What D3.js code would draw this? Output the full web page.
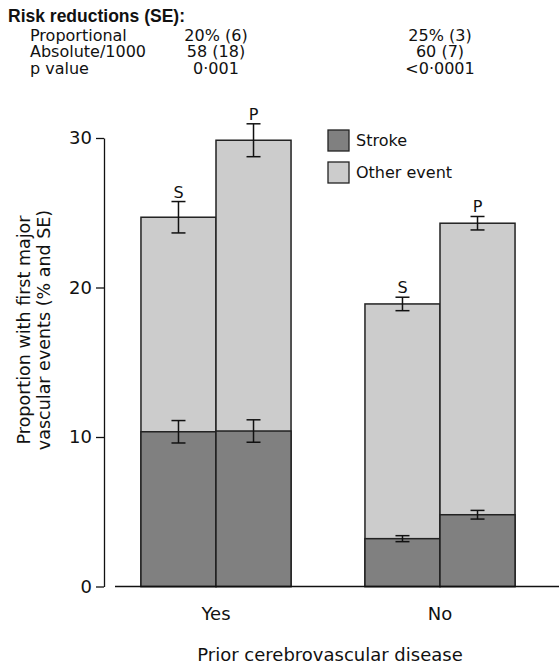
<!DOCTYPE html>
<html>
<head>
<meta charset="utf-8">
<script src="https://cdn.jsdelivr.net/npm/d3@7"></script>
<style>
  body { margin: 0; background: #fff; }
  text { font-family: "DejaVu Sans", sans-serif; fill: #111; }
</style>
</head>
<body>
<svg width="559" height="666"></svg>

<script>
  // data
  const groups = ["Yes", "No"];
  const arms = ["S", "P"];
  const stroke = [[10.35, 10.4], [3.2, 4.8]];
  const strokeSE = [[0.75, 0.75], [0.2, 0.29]];
  const total = [[24.7, 29.85], [18.9, 24.3]];
  const totalSE = [[1.05, 1.1], [0.45, 0.45]];
  const yTicks = [0, 10, 20, 30];
  const rowLabels = ["Proportional", "Absolute/1000", "p value"];
  const rowValues = [
    ["20% (6)", "25% (3)"],
    ["58 (18)", "60 (7)"],
    ["0\u00b7001", "<0\u00b70001"]
  ];
  const legendItems = ["Stroke", "Other event"];
  const colors = ["#808080", "#cccccc"];

  const svg = d3.select("svg");

  const x = d3.scaleBand().domain(groups).range([104, 552])
    .paddingInner(0.33).paddingOuter(0.165);
  const xArm = d3.scaleBand().domain(arms).range([0, x.bandwidth()]);
  const y = d3.scaleLinear().domain([0, 30]).range([586.5, 138]);

  // header table
  svg.append("text")
    .attr("x", 8).attr("y", 22)
    .style("font-family", "'Liberation Sans', Arial, sans-serif")
    .style("font-weight", "bold").style("font-size", "17.5px")
    .text("Risk reductions (SE):");

  rowLabels.forEach((lab, i) => {
    const yy = 40.5 + i * 16.6;
    svg.append("text").attr("x", 30).attr("y", yy)
      .style("font-size", "16px").text(lab);
    groups.forEach((g, j) => {
      svg.append("text").attr("x", x(g) + x.bandwidth() / 2).attr("y", yy)
        .attr("text-anchor", "middle").style("font-size", "16px")
        .text(rowValues[i][j]);
    });
  });

  // bars
  const flat = [];
  groups.forEach((g, i) => arms.forEach((a, j) => flat.push({
    g, a, stroke: stroke[i][j], sse: strokeSE[i][j],
    total: total[i][j], tse: totalSE[i][j]
  })));

  const bar = svg.append("g").selectAll("g").data(flat).join("g")
    .attr("transform", d => `translate(${x(d.g) + xArm(d.a)},0)`);

  bar.append("rect")
    .attr("y", d => y(d.total))
    .attr("width", xArm.bandwidth())
    .attr("height", d => y(0) - y(d.total))
    .attr("fill", colors[1]).attr("stroke", "#222").attr("stroke-width", 1.5);

  bar.append("rect")
    .attr("y", d => y(d.stroke))
    .attr("width", xArm.bandwidth())
    .attr("height", d => y(0) - y(d.stroke))
    .attr("fill", colors[0]).attr("stroke", "#222").attr("stroke-width", 1.5);

  // error bars
  const cx = xArm.bandwidth() / 2;
  const errBar = (sel, mid, se) => {
    const p = sel.append("g").attr("stroke", "#111").attr("stroke-width", 1.5);
    p.append("line").attr("x1", cx).attr("x2", cx)
      .attr("y1", d => y(mid(d) - se(d))).attr("y2", d => y(mid(d) + se(d)));
    p.append("line").attr("x1", cx - 7).attr("x2", cx + 7)
      .attr("y1", d => y(mid(d) - se(d))).attr("y2", d => y(mid(d) - se(d)));
    p.append("line").attr("x1", cx - 7).attr("x2", cx + 7)
      .attr("y1", d => y(mid(d) + se(d))).attr("y2", d => y(mid(d) + se(d)));
  };
  errBar(bar, d => d.total, d => d.tse);
  errBar(bar, d => d.stroke, d => d.sse);

  bar.append("text")
    .attr("x", cx).attr("y", d => y(d.total + d.tse) - 4)
    .attr("text-anchor", "middle").style("font-size", "16px")
    .text(d => d.a);

  // axes
  const yAxis = svg.append("g").attr("transform", "translate(104,0)")
    .call(d3.axisLeft(y).tickValues(yTicks).tickSize(8).tickSizeOuter(0).tickPadding(4));
  yAxis.selectAll("path, line").attr("stroke", "#111").attr("stroke-width", 1.3);
  yAxis.selectAll("text").style("font-size", "18px")
    .style("font-family", "'DejaVu Sans', sans-serif").attr("fill", "#111");

  svg.append("line").attr("x1", 115).attr("x2", 559)
    .attr("y1", y(0)).attr("y2", y(0))
    .attr("stroke", "#111").attr("stroke-width", 1.3);

  groups.forEach(g => {
    svg.append("text").attr("x", x(g) + x.bandwidth() / 2).attr("y", 620)
      .attr("text-anchor", "middle").style("font-size", "18px").text(g);
  });

  svg.append("text").attr("x", (x.range()[0] + x.range()[1]) / 2 + 2).attr("y", 661)
    .attr("text-anchor", "middle").style("font-size", "18px")
    .text("Prior cerebrovascular disease");

  const yl = svg.append("text").attr("transform", "translate(0,330) rotate(-90)")
    .attr("text-anchor", "middle").style("font-size", "17.5px");
  yl.append("tspan").attr("x", 0).attr("y", 30).text("Proportion with first major");
  yl.append("tspan").attr("x", 0).attr("y", 50).text("vascular events (% and SE)");

  // legend
  const leg = svg.append("g").selectAll("g").data(legendItems).join("g")
    .attr("transform", (d, i) => `translate(328,${130 + i * 32})`);
  leg.append("rect").attr("width", 21).attr("height", 21)
    .attr("fill", (d, i) => colors[i]).attr("stroke", "#222").attr("stroke-width", 1.3);
  leg.append("text").attr("x", 28).attr("y", 16)
    .style("font-size", "16px").text(d => d);
</script>
</body>
</html>
